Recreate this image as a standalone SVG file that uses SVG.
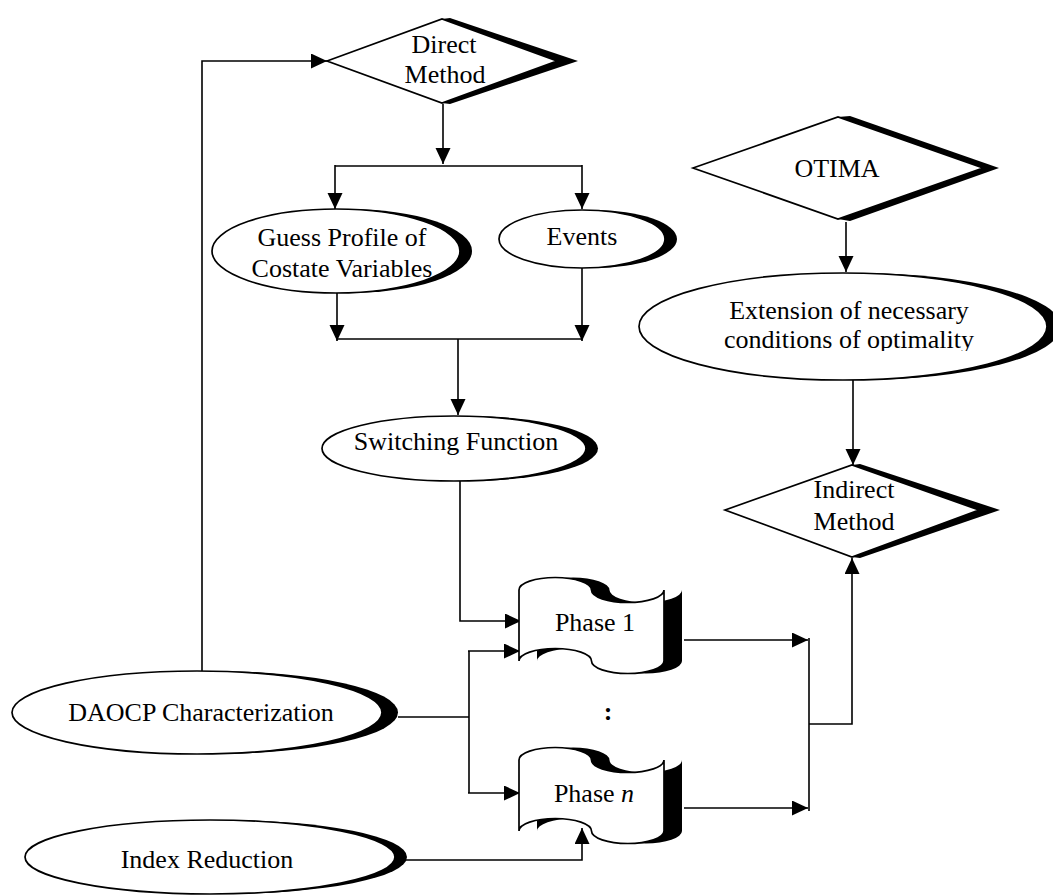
<svg xmlns="http://www.w3.org/2000/svg" width="1053" height="896" viewBox="0 0 1053 896">
<defs>
<marker id="arr" markerUnits="userSpaceOnUse" markerWidth="17" markerHeight="16" refX="16" refY="7.5" orient="auto">
<path d="M0,0 L16,7.5 L0,15 Z" fill="#000"/>
</marker>
<clipPath id="extclip"><rect x="600" y="260" width="453" height="91"/></clipPath>
<path id="tape" d="M0,0 A36.25,12.5 0 0 1 72.5,0 A36.25,12.5 0 0 0 145,0 L145,71 A36.25,12.5 0 0 1 72.5,71 A36.25,12.5 0 0 0 0,71 Z"/>
</defs>
<style>
.sh{fill:#000;stroke:none}
.nd{fill:#fff;stroke:#000;stroke-width:1.7}
.t{font-family:"Liberation Serif","Times New Roman",serif;font-size:26px;fill:#000;text-anchor:middle}
.c{fill:none;stroke:#000;stroke-width:1.6}
</style>
<rect width="1053" height="896" fill="#fff"/>

<g id="connectors">
<polyline class="c" points="202,671 202,61 327,61" marker-end="url(#arr)"/>
<line class="c" x1="443" y1="104" x2="443" y2="164" marker-end="url(#arr)"/>
<line class="c" x1="335" y1="166" x2="582" y2="166"/>
<line class="c" x1="335" y1="165" x2="335" y2="209" marker-end="url(#arr)"/>
<line class="c" x1="582" y1="165" x2="582" y2="209" marker-end="url(#arr)"/>
<line class="c" x1="337" y1="293" x2="337" y2="341" marker-end="url(#arr)"/>
<line class="c" x1="582" y1="268" x2="582" y2="341" marker-end="url(#arr)"/>
<line class="c" x1="337" y1="339" x2="582" y2="339"/>
<line class="c" x1="458" y1="339" x2="458" y2="415" marker-end="url(#arr)"/>
<polyline class="c" points="460,481 460,621 521,621" marker-end="url(#arr)"/>
<line class="c" x1="398" y1="717" x2="469" y2="717"/>
<line class="c" x1="469" y1="651" x2="469" y2="793"/>
<line class="c" x1="468" y1="651" x2="520" y2="651" marker-end="url(#arr)"/>
<line class="c" x1="468" y1="793" x2="520" y2="793" marker-end="url(#arr)"/>
<polyline class="c" points="405,860 582,860 582,828" marker-end="url(#arr)"/>
<line class="c" x1="684" y1="640" x2="808" y2="640" marker-end="url(#arr)"/>
<line class="c" x1="684" y1="808" x2="808" y2="808" marker-end="url(#arr)"/>
<line class="c" x1="809" y1="638" x2="809" y2="811"/>
<polyline class="c" points="809,724 852,724 852,558" marker-end="url(#arr)"/>
<line class="c" x1="846" y1="222" x2="846" y2="272" marker-end="url(#arr)"/>
<line class="c" x1="853" y1="380" x2="853" y2="465" marker-end="url(#arr)"/>
</g>

<g id="direct-method">
<polygon class="sh" points="442,19 450,18 578,61 450,104 442,103"/>
<polygon class="nd" points="327,61 442,19 557,61 442,103"/>
<text class="t" x="444" y="53">Direct</text>
<text class="t" x="445" y="83">Method</text>
</g>

<g id="guess-profile">
<ellipse class="sh" cx="348" cy="251" rx="124" ry="42"/>
<ellipse class="nd" cx="336" cy="251" rx="124" ry="42"/>
<text class="t" x="342" y="246">Guess Profile of</text>
<text class="t" x="342" y="277">Costate Variables</text>
</g>

<g id="events">
<ellipse class="sh" cx="594" cy="239" rx="83" ry="29"/>
<ellipse class="nd" cx="582" cy="239" rx="83" ry="29"/>
<text class="t" x="582" y="245">Events</text>
</g>

<g id="switching-function">
<ellipse class="sh" cx="466" cy="448.5" rx="132" ry="32.5"/>
<ellipse class="nd" cx="454" cy="448.5" rx="132" ry="32.5"/>
<text class="t" x="456" y="450">Switching Function</text>
</g>

<g id="otima">
<polygon class="sh" points="838,117 850,116 999,168 850,221 838,219"/>
<polygon class="nd" points="693,168 838,117 983,168 838,219"/>
<text class="t" x="837" y="177">OTIMA</text>
</g>

<g id="extension">
<ellipse class="sh" cx="857" cy="326.5" rx="204" ry="53.5"/>
<ellipse class="nd" cx="843" cy="326.5" rx="204" ry="53.5"/>
<text class="t" x="849" y="319">Extension of necessary</text>
<text class="t" x="849" y="348" clip-path="url(#extclip)">conditions of optimality</text>
</g>

<g id="indirect-method">
<polygon class="sh" points="852,465 860,464 1000,510 860,558 852,557"/>
<polygon class="nd" points="725,510 852,465 979,510 852,557"/>
<text class="t" x="854" y="498">Indirect</text>
<text class="t" x="854" y="530">Method</text>
</g>

<g id="phase-1">
<use href="#tape" class="sh" transform="translate(537,590)"/>
<use href="#tape" class="nd" transform="translate(519,590)"/>
<text class="t" x="595" y="631">Phase 1</text>
</g>

<g id="dots">
<text class="t" x="608" y="720" font-weight="bold">:</text>
</g>

<g id="phase-n">
<use href="#tape" class="sh" transform="translate(537,760)"/>
<use href="#tape" class="nd" transform="translate(519,760)"/>
<text class="t" x="594" y="802">Phase <tspan font-style="italic">n</tspan></text>
</g>

<g id="daocp">
<ellipse class="sh" cx="213" cy="712.5" rx="185" ry="41.5"/>
<ellipse class="nd" cx="197" cy="712.5" rx="185" ry="41.5"/>
<text class="t" x="201" y="721">DAOCP Characterization</text>
</g>

<g id="index-reduction">
<ellipse class="sh" cx="222" cy="857" rx="185" ry="37"/>
<ellipse class="nd" cx="210" cy="857" rx="185" ry="37"/>
<text class="t" x="207" y="868">Index Reduction</text>
</g>
</svg>
